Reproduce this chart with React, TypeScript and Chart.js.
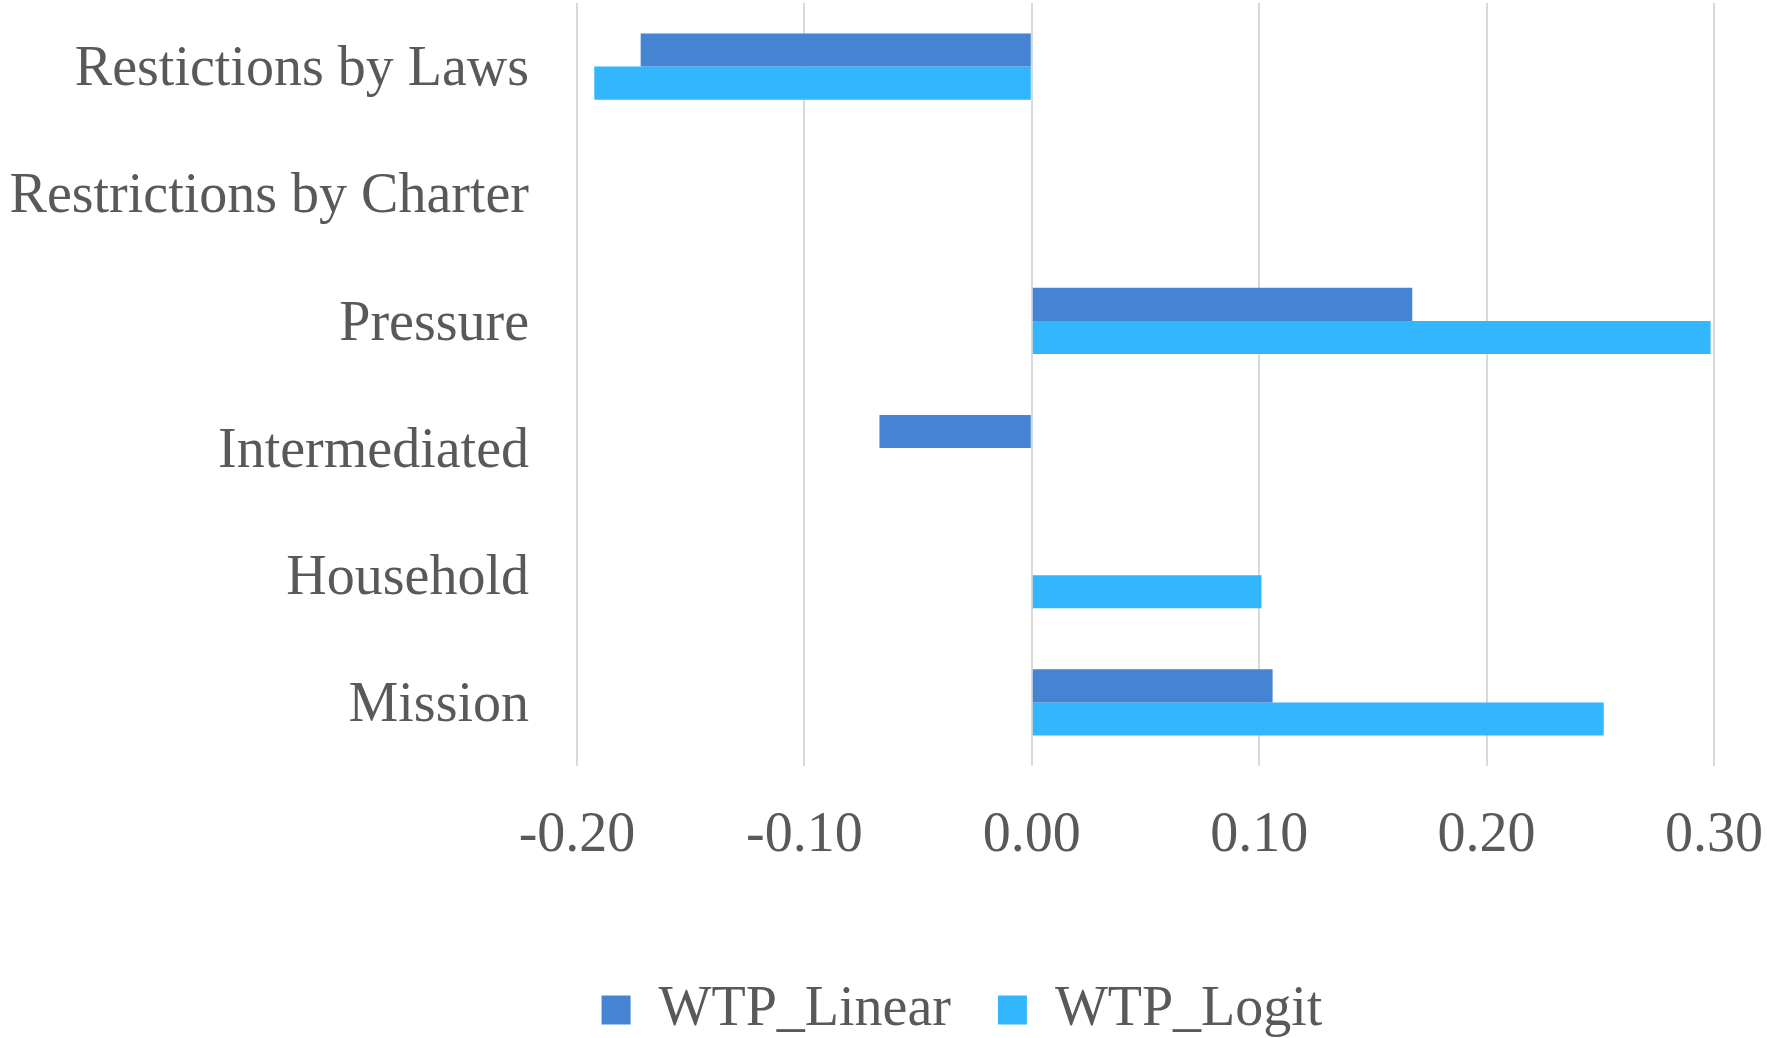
import React, { useEffect, useRef } from "react";
import { Chart, registerables } from "chart.js";

Chart.register(...registerables);

const categories = [
  "Restictions by Laws",
  "Restrictions by Charter",
  "Pressure",
  "Intermediated",
  "Household",
  "Mission",
];
const wtpLinear = [-0.172, null, 0.1673, -0.067, null, 0.1059];
const wtpLogit = [-0.1924, null, 0.2985, null, 0.101, 0.2515];
const xTicks = [-0.2, -0.1, 0.0, 0.1, 0.2, 0.3];

const TEXT = "#595959";
const FONT = "'Liberation Serif', 'Times New Roman', serif";

const widenLabelArea = {
  id: "widenLabelArea",
  afterLayout(chart: any) {
    if (chart.scales.y) chart.scales.y.left = 0;
  },
};

export default function App() {
  const ref = useRef<HTMLCanvasElement | null>(null);
  useEffect(() => {
    if (!ref.current) return;
    const chart = new Chart(ref.current, {
      type: "bar",
      data: {
        labels: categories,
        datasets: [
          {
            label: "WTP_Linear",
            data: wtpLinear as any,
            backgroundColor: "#4584D3",
            borderWidth: 0,
            categoryPercentage: 0.52,
            barPercentage: 1,
          },
          {
            label: "WTP_Logit",
            data: wtpLogit as any,
            backgroundColor: "#32B6FE",
            borderWidth: 0,
            categoryPercentage: 0.52,
            barPercentage: 1,
          },
        ],
      },
      plugins: [widenLabelArea],
      options: {
        indexAxis: "y",
        responsive: false,
        animation: false,
        layout: { padding: { top: 3, right: 53, left: 210, bottom: -10 } },
        plugins: {
          tooltip: { enabled: false },
          legend: {
            position: "bottom",
            labels: {
              color: TEXT,
              font: { family: FONT, size: 56 },
              boxWidth: 29,
              boxHeight: 29,
              padding: 47,
            },
          },
        },
        scales: {
          x: {
            min: -0.2,
            max: 0.3,
            afterBuildTicks: (s: any) => {
              s.ticks = xTicks.map((v) => ({ value: v }));
            },
            afterFit: (s: any) => {
              s.height = 169;
              s.paddingLeft = 0;
              s.paddingRight = 0;
            },
            grid: { color: "#D9D9D9", lineWidth: 2, drawTicks: false },
            border: { display: false },
            ticks: {
              color: TEXT,
              font: { family: FONT, size: 56 },
              padding: 37,
              maxRotation: 0,
              callback: (v: any) => Number(v).toFixed(2),
            },
          },
          y: {
            afterFit: (s: any) => {
              s.width = 367;
              s.paddingTop = 0;
              s.paddingBottom = 0;
            },
            grid: { display: false, drawTicks: false },
            border: { display: false },
            ticks: {
              color: TEXT,
              font: { family: FONT, size: 56 },
              padding: 48,
              labelOffset: 4,
            },
          },
        } as any,
      },
    });
    return () => chart.destroy();
  }, []);
  return (
    <div style={{ position: "absolute", left: 0, top: 0, width: 1767, height: 1038, background: "#fff" }}>
      <canvas ref={ref} width={1767} height={1038} style={{ display: "block" }} />
    </div>
  );
}
